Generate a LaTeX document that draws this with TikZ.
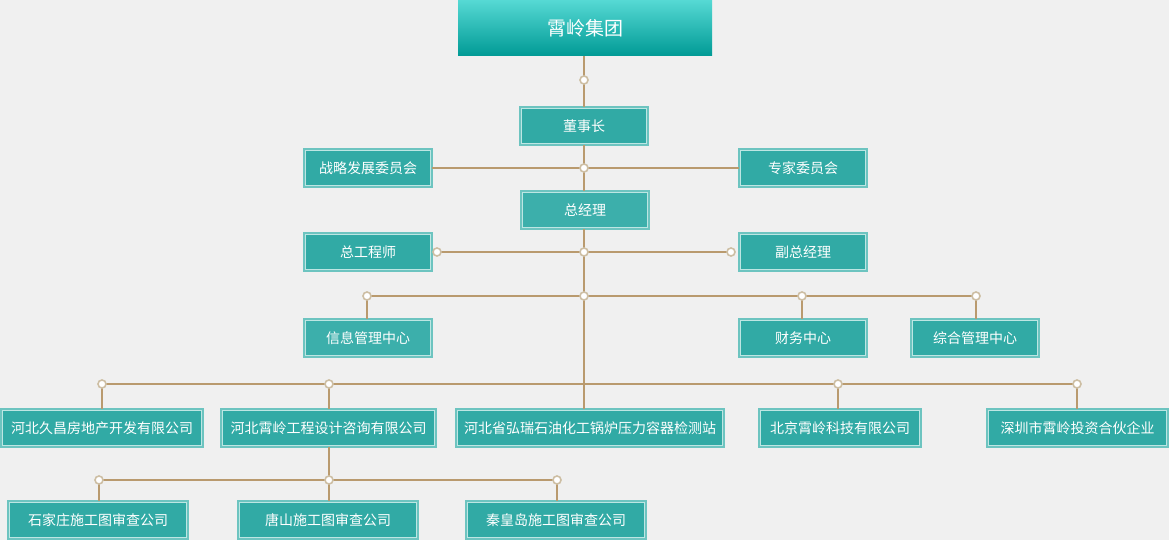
\documentclass[tikz,border=0pt]{standalone}
\usepackage{fontspec}
\newfontfamily\cjk{Noto Sans CJK SC}
\usetikzlibrary{calc}
\definecolor{bgc}{HTML}{F0F0F0}
\definecolor{fillc}{HTML}{31AAA5}
\definecolor{filld}{HTML}{3CAFAB}
\definecolor{bordc}{HTML}{6DC4C0}
\definecolor{palec}{HTML}{BDE6E3}
\definecolor{linec}{HTML}{B99A6E}
\definecolor{ringc}{HTML}{CDBEA3}
\definecolor{topc}{HTML}{56D9D4}
\definecolor{botc}{HTML}{009A95}
\tikzset{
  orgbox/.style={draw=bordc, line width=2pt, fill=fillc, text=white,
    font=\cjk\fontsize{14}{15}\selectfont, inner sep=0pt, outer sep=0pt,
    minimum height=38pt,
    path picture={\draw[palec, line width=1pt]
      ([xshift=1.5pt,yshift=-1.5pt]path picture bounding box.north west) rectangle
      ([xshift=-1.5pt,yshift=1.5pt]path picture bounding box.south east);}},
  lightbox/.style={orgbox, fill=filld},
  topbox/.style={draw=none, top color=topc, bottom color=botc, text=white,
    font=\cjk\fontsize{19}{20}\selectfont, inner sep=0pt, outer sep=0pt,
    minimum width=254pt, minimum height=56pt},
  conn/.style={draw=linec, line width=1.2pt},
  ring/.style={circle, draw=ringc, fill=white, line width=1.6pt, minimum size=8pt, inner sep=0pt}
}
\begin{document}
\begin{tikzpicture}[x=1pt,y=-1pt]
\fill[bgc] (0,0) rectangle (1169,540);
\useasboundingbox (0,0) rectangle (1169,540);

% junction coordinates
\coordinate (c1) at (584,80);
\coordinate (c2) at (584,168);
\coordinate (c3) at (584,252);
\coordinate (c3l) at (437,252);
\coordinate (c3r) at (731,252);
\coordinate (c4) at (584,296);
\coordinate (c4a) at (367,296);
\coordinate (c4b) at (802,296);
\coordinate (c4c) at (976,296);
\coordinate (c5) at (584,384);
\coordinate (c5a) at (102,384);
\coordinate (c5b) at (329,384);
\coordinate (c5c) at (838,384);
\coordinate (c5d) at (1077,384);
\coordinate (c6) at (329,480);
\coordinate (c6a) at (99,480);
\coordinate (c6b) at (557,480);

% nodes
\node[topbox] (top) at (585,28) {霄岭集团};
\node[orgbox, minimum width=128pt] (dsz) at (584,126) {董事长};
\node[orgbox, minimum width=128pt] (zl) at (368,168) {战略发展委员会};
\node[orgbox, minimum width=128pt] (zj) at (803,168) {专家委员会};
\node[lightbox, minimum width=128pt] (zjl) at (585,210) {总经理};
\node[orgbox, minimum width=128pt] (zgcs) at (368,252) {总工程师};
\node[orgbox, minimum width=128pt] (fzjl) at (803,252) {副总经理};
\node[lightbox, minimum width=128pt] (xx) at (368,338) {信息管理中心};
\node[orgbox, minimum width=128pt] (cw) at (803,338) {财务中心};
\node[orgbox, minimum width=128pt] (zh) at (975,338) {综合管理中心};
\node[orgbox, minimum width=202pt] (jc) at (102,428) {河北久昌房地产开发有限公司};
\node[orgbox, minimum width=215pt] (xlgc) at (328.5,428) {河北霄岭工程设计咨询有限公司};
\node[orgbox, minimum width=268pt] (hr) at (590,428) {河北省弘瑞石油化工锅炉压力容器检测站};
\node[orgbox, minimum width=162pt] (bj) at (840,428) {北京霄岭科技有限公司};
\node[orgbox, minimum width=181pt] (sz) at (1077.5,428) {深圳市霄岭投资合伙企业};
\node[orgbox, minimum width=180pt] (sjz) at (98,520) {石家庄施工图审查公司};
\node[orgbox, minimum width=180pt] (ts) at (328,520) {唐山施工图审查公司};
\node[orgbox, minimum width=180pt] (qhd) at (556,520) {秦皇岛施工图审查公司};

% connectors
\path[conn] (top.south -| c1) -- (c1) -- (c1 |- dsz.north);
\path[conn] (dsz.south -| c2) -- (c2) -- (c2 |- zjl.north);
\path[conn] (zl.east) -- (c2) -- (zj.west);
\path[conn] (zjl.south -| c3) -- (c3) -- (c4) -- (c5) -- (c5 |- hr.north);
\path[conn] (c3l) -- (c3) -- (c3r);
\path[conn] (c4a) -- (c4) -- (c4b) -- (c4c);
\path[conn] (c4a) -- (c4a |- xx.north);
\path[conn] (c4b) -- (c4b |- cw.north);
\path[conn] (c4c) -- (c4c |- zh.north);
\path[conn] (c5a) -- (c5b) -- (c5) -- (c5c) -- (c5d);
\path[conn] (c5a) -- (c5a |- jc.north);
\path[conn] (c5b) -- (c5b |- xlgc.north);
\path[conn] (c5c) -- (c5c |- bj.north);
\path[conn] (c5d) -- (c5d |- sz.north);
\path[conn] (xlgc.south -| c6) -- (c6);
\path[conn] (c6a) -- (c6) -- (c6b);
\path[conn] (c6a) -- (c6a |- sjz.north);
\path[conn] (c6) -- (c6 |- ts.north);
\path[conn] (c6b) -- (c6b |- qhd.north);

% rings
\foreach \p in {c1,c2,c3,c3l,c3r,c4,c4a,c4b,c4c,c5a,c5b,c5c,c5d,c6,c6a,c6b}
  \node[ring] at (\p) {};
\end{tikzpicture}
\end{document}
